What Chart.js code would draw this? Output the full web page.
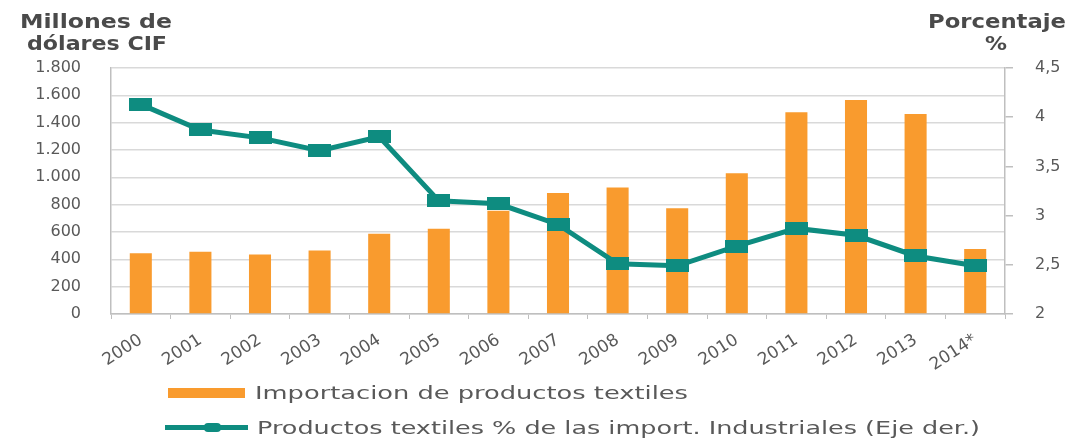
<!DOCTYPE html>
<html><head><meta charset="utf-8">
<script src="https://cdn.jsdelivr.net/npm/chart.js@4"></script>
<style>
html,body{margin:0;padding:0;background:#fff;}
#wrap{position:relative;width:1078px;height:438px;overflow:hidden;background:#fff;}
canvas{position:absolute;left:0;top:0;}
.t{position:absolute;left:0;top:0;white-space:nowrap;line-height:1;transform-origin:0 0;font-family:"DejaVu Sans",sans-serif;color:#595959;}
.b{font-weight:bold;color:#4a4a4a;font-size:19px;}
.lg{font-size:18px;}
#sw1{position:absolute;left:168px;top:388px;width:77px;height:10px;background:#F99B2E;}
#sw2{position:absolute;left:165px;top:425px;width:83px;height:5px;background:#0E8C80;}
#sw2m{position:absolute;left:204px;top:423px;width:17px;height:9px;background:#0E8C80;border-radius:4px;}
</style></head><body>
<div id="wrap">
<canvas id="c" width="1078" height="438"></canvas>
<div class="t b" data-x="20" data-y="21" data-w="152">Millones de</div>
<div class="t b" data-x="27" data-y="43" data-w="140">dólares CIF</div>
<div class="t b" data-x="928" data-y="21" data-w="138">Porcentaje</div>
<div class="t b" data-x="985" data-y="43" data-w="22">%</div>
<div id="sw1"></div>
<div class="t lg" data-x="255" data-y="393" data-w="433">Importacion de productos textiles</div>
<div id="sw2"></div><div id="sw2m"></div>
<div class="t lg" data-x="257" data-y="428" data-w="723">Productos textiles % de las import. Industriales (Eje der.)</div>
</div>
<script>
const years = ['2000','2001','2002','2003','2004','2005','2006','2007','2008','2009','2010','2011','2012','2013','2014*'];
const importValues = [445, 456, 436, 465, 587, 624, 755, 885, 926, 774, 1029, 1476, 1566, 1463, 476];
const sharePct = [4.13, 3.87, 3.79, 3.66, 3.80, 3.15, 3.12, 2.91, 2.51, 2.49, 2.69, 2.87, 2.80, 2.59, 2.49];
const leftTickLabels = ['0','200','400','600','800','1.000','1.200','1.400','1.600','1.800'];
const rightTickLabels = ['2','2,5','3','3,5','4','4,5'];
const seriesNames = ['Importacion de productos textiles', 'Productos textiles % de las import. Industriales (Eje der.)'];

const ORANGE = '#F99B2E', TEAL = '#0E8C80', GRID = '#d9d9d9', AXIS = '#bfbfbf', TXT = '#595959';

// text overlays: position and stretch to measured width
document.querySelectorAll('.t').forEach(el => {
  const r = el.getBoundingClientRect();
  const w = r.width, h = r.height;
  const tw = +el.dataset.w;
  el.style.left = el.dataset.x + 'px';
  el.style.top = (+el.dataset.y - h / 2) + 'px';
  el.style.transform = 'scaleX(' + (tw / w) + ')';
});

const marker = document.createElement('canvas');
marker.width = 23; marker.height = 13;
const mctx = marker.getContext('2d');
mctx.fillStyle = TEAL; mctx.fillRect(0, 0, 23, 13);

new Chart(document.getElementById('c'), {
  data: {
    labels: years,
    datasets: [
      { type: 'line', label: seriesNames[1], data: sharePct, yAxisID: 'y1', order: 0,
        borderColor: TEAL, borderWidth: 5, tension: 0, pointStyle: marker,
        pointRadius: 8, pointBackgroundColor: TEAL, pointBorderColor: TEAL },
      { type: 'bar', label: seriesNames[0], data: importValues, yAxisID: 'y', order: 1,
        backgroundColor: ORANGE, barPercentage: 0.37, categoryPercentage: 1 }
    ]
  },
  options: {
    responsive: false, animation: false, devicePixelRatio: 1,
    layout: { padding: { top: 68, left: 0, right: 0, bottom: 0 } },
    plugins: { legend: { display: false }, tooltip: { enabled: false } },
    scales: {
      x: {
        grid: { display: true, drawOnChartArea: false, drawTicks: true, tickLength: 5, offset: true, color: AXIS },
        border: { display: true, color: AXIS, width: 1.5 },
        ticks: { autoSkip: false, maxRotation: 33, minRotation: 33, padding: 11, color: TXT,
          font: { family: 'DejaVu Sans', size: 17 } },
        afterFit(s) { s.height = 124; }
      },
      y: {
        position: 'left', min: 0, max: 1800,
        ticks: { stepSize: 200, padding: 30, color: TXT, font: { family: 'DejaVu Sans', size: 16 },
          callback: (v, i) => leftTickLabels[i] },
        grid: { color: GRID, lineWidth: 1.5, drawTicks: false },
        border: { display: true, color: AXIS, width: 1.5 },
        afterFit(s) { s.width = 111; }
      },
      y1: {
        position: 'right', min: 2, max: 4.5,
        ticks: { stepSize: 0.5, padding: 22, color: TXT, font: { family: 'DejaVu Sans', size: 16 },
          callback: (v, i) => rightTickLabels[i] },
        grid: { drawOnChartArea: false, drawTicks: true, tickLength: 8, color: AXIS, lineWidth: 1.5 },
        border: { display: true, color: AXIS, width: 1.5 },
        afterFit(s) { s.width = 73; }
      }
    }
  }
});
</script>
</body></html>
